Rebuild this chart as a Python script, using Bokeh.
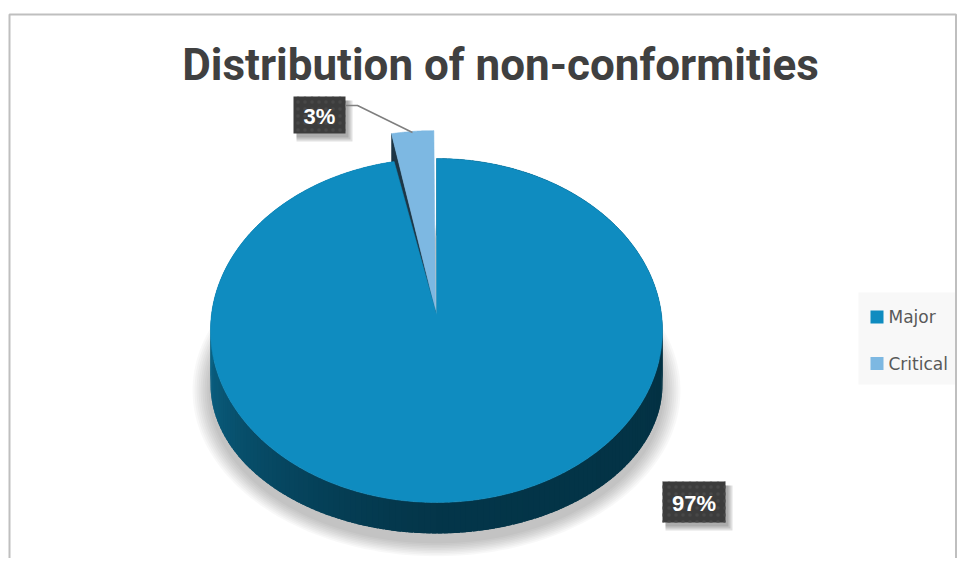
import numpy as np
from bokeh.plotting import figure
from bokeh.models import Range1d
from bokeh.core.properties import value
from bokeh.embed import file_html
from bokeh.resources import INLINE

# ---------------- data ----------------
title_text = "Distribution of non-conformities"
categories = ["Major", "Critical"]
values = [97, 3]
pct_labels = ["97%", "3%"]
slice_colors = ["#0F8CC0", "#7DB8E2"]
explode = [0, 28]

# ---------------- layout (picture pixel coordinates) ----------------
W, H = 957, 558
CX, CY_T, RX, RY_T = 436.0, 330.0, 226.0, 172.0
CY_B, RY_B = 384.0, 149.0
APEX = (436.0, 314.0)

p = figure(width=W, height=H, output_backend="svg", toolbar_location=None,
           x_range=Range1d(0, W), y_range=Range1d(H, 0),
           min_border=0, outline_line_color=None, background_fill_color="white")
p.axis.visible = False
p.grid.visible = False


def top_pt(th):
    t = np.radians(th)
    return CX + RX * np.sin(t), CY_T - RY_T * np.cos(t)


def bot_pt(th):
    t = np.radians(th)
    return CX + RX * np.sin(t), CY_B - RY_B * np.cos(t)


def side_color(th):
    th = th % 360
    dark = np.array([4, 54, 74])
    right = np.array([3, 50, 68])
    mid = np.array([11, 98, 132])
    light = np.array([14, 112, 150])
    if 180 <= th <= 270:
        t = (th - 180) / 90.0
        c = dark + (mid - dark) * t ** 1.3
    elif 90 <= th < 180:
        t = (th - 90) / 90.0
        c = right + (dark - right) * t
    elif th > 270:
        t = (th - 270) / 90.0
        c = mid + (light - mid) * t
    else:
        c = right
    c = np.clip(c, 0, 255).astype(int)
    return "#%02x%02x%02x" % tuple(c)


# legend background
p.rect(x=[906.5], y=[338], width=[97], height=[92], fill_color="#f8f8f8", line_color=None)

# border of chart area
p.line([9, 9, 955.5, 955.5], [H, 14, 14, H], line_color="#bfbfbf", line_width=2)

# soft shadow under the pie
for i in range(9):
    t = np.linspace(0, 2 * np.pi, 200)
    rx = RX + 2 + 2.0 * i
    ry = RY_B + 4 + 1.6 * i
    p.patch(CX + rx * np.sin(t), CY_B + 6 - ry * np.cos(t),
            fill_color="black", fill_alpha=0.028, line_color=None)

# slice angles from values
total = float(sum(values))
starts, ends = [], []
acc = 0.0
for v in values:
    starts.append(acc / total * 360.0)
    acc += v
    ends.append(acc / total * 360.0)

# --- Major slice: side strips then top face ---
a0, a1 = starts[0], ends[0]
ths = np.arange(a0, a1 + 0.001, 1.5)
if ths[-1] < a1:
    ths = np.append(ths, a1)
xs, ys, cols = [], [], []
for t1, t2 in zip(ths[:-1], ths[1:]):
    t2o = min(t2 + 1.2, a1)
    x1t, y1t = top_pt(t1)
    x2t, y2t = top_pt(t2o)
    x1b, y1b = bot_pt(t1)
    x2b, y2b = bot_pt(t2o)
    xs.append([x1t, x2t, x2b, x1b])
    ys.append([y1t, y2t, y2b, y1b])
    cols.append(side_color((t1 + t2) / 2))
p.patches(xs, ys, fill_color=cols, line_color=None)

# --- Critical slice (exploded) ---
c0, c1 = starts[1], ends[1]
mid = np.radians((c0 + c1) / 2)
ex, ey = explode[1] * np.sin(mid), -explode[1] * np.cos(mid)
apex_c = (APEX[0] + ex * 0.4, APEX[1] + ey * 0.15)
cth = np.linspace(c0, c1, 40)
cx_r, cy_r = top_pt(cth)
cx_r = cx_r + ex
cy_r = cy_r + ey
# radial face (dark)
p.patch([apex_c[0], cx_r[0], cx_r[0], apex_c[0]],
        [apex_c[1], cy_r[0], cy_r[0] + 30, apex_c[1] + 30],
        fill_color="#1d3646", line_color="#1d3646", line_width=0.5)
# top face
p.patch(np.concatenate([[apex_c[0]], cx_r, [apex_c[0]]]),
        np.concatenate([[apex_c[1]], cy_r, [apex_c[1]]]),
        fill_color=slice_colors[1], line_color=slice_colors[1], line_width=0.5)

# major top face
mth = np.linspace(a0, a1, 400)
mx, my = top_pt(mth)
p.patch(np.concatenate([[APEX[0]], mx, [APEX[0]]]),
        np.concatenate([[APEX[1]], my, [APEX[1]]]),
        fill_color=slice_colors[0], line_color=slice_colors[0], line_width=0.5)

# --- title ---
p.text(x=[500], y=[64], text=[title_text], text_align="center", text_baseline="middle",
       text_font=value("Roboto"), text_font_style="bold",
       text_font_size="44px", text_color="#404040")

# --- data labels ---
lab_x = [693.5, 319.0]
lab_y = [501.5, 114.5]
lab_w = [63, 52]
lab_h = [41, 37]
for k in range(2):
    for s in range(3):
        p.rect(x=[lab_x[k] + 3 + s], y=[lab_y[k] + 4 + s], width=[lab_w[k] + 2 * s],
               height=[lab_h[k] + 2 * s], fill_color="black", fill_alpha=0.12, line_color=None)
p.rect(x=lab_x, y=lab_y, width=lab_w, height=lab_h, fill_color="#3c3c3c", line_color=None,
       hatch_pattern="dot", hatch_color="#484848", hatch_scale=7, hatch_weight=1.5)
p.text(x=lab_x, y=[v + 1 for v in lab_y], text=pct_labels, text_align="center",
       text_baseline="middle", text_font=value("Liberation Sans"), text_font_style="bold",
       text_font_size="22px", text_color="white")

# leader line for the small slice
p.line([345, 357, 412], [105, 105, 132], line_color="#7f7f7f", line_width=1.5)

# --- legend ---
leg_y = [316.5, 363.0]
p.rect(x=[876.5, 876.5], y=leg_y, width=[13, 13], height=[13, 13],
       fill_color=slice_colors, line_color=None)
p.text(x=[888, 888], y=leg_y, text=categories, text_align="left", text_baseline="middle",
       text_font=value("DejaVu Sans"), text_font_size="17px", text_color="#595959")

open("out.html", "w").write(file_html(p, INLINE))
